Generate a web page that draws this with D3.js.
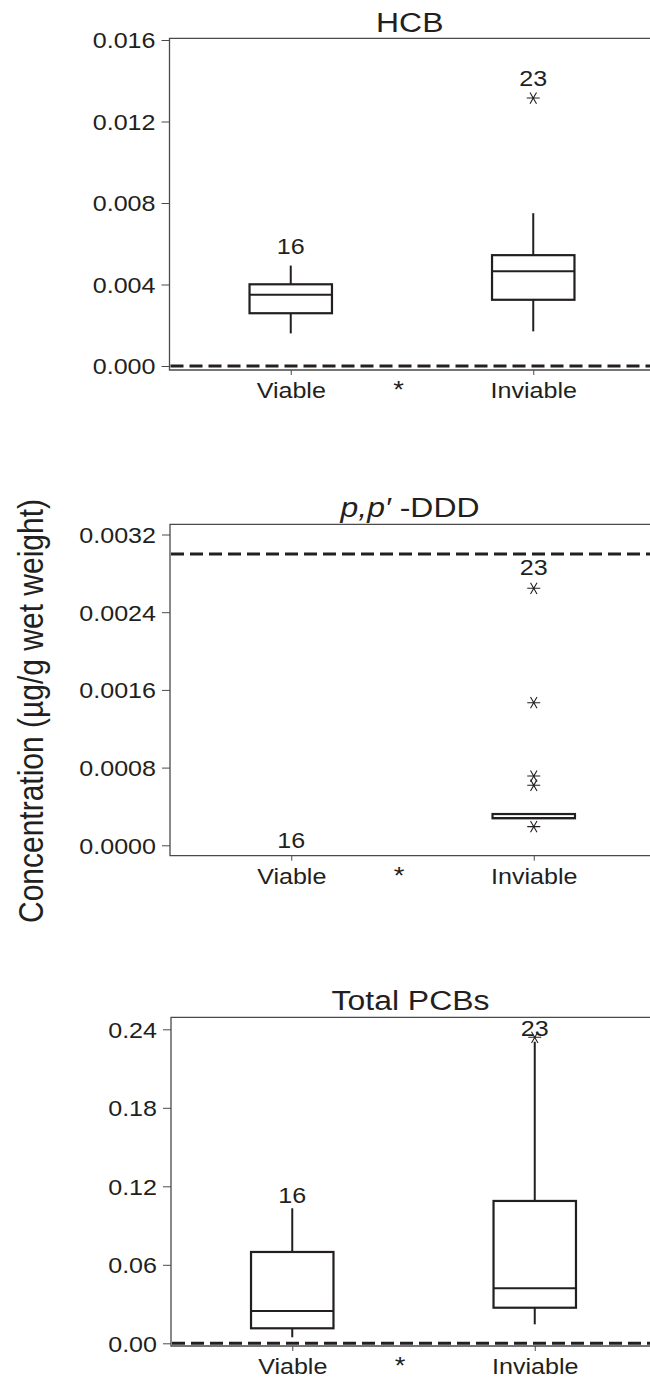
<!DOCTYPE html>
<html><head><meta charset="utf-8">
<script src="https://cdn.jsdelivr.net/npm/d3@7"></script>
<style>
body{margin:0;background:#fff;}
svg{display:block;font-family:"Liberation Sans",Arial,sans-serif;}
</style></head>
<body><svg id="chart" width="650" height="1380"></svg>
<script>
// ---- data ----
const groups = ["Viable", "Inviable"];
const groupLabels = ["16", "23"];
const yAxisTitle = "Concentration (\u00b5g/g wet weight)";
// box stats: [whiskerLow, Q1, median, Q3, whiskerHigh]
const hcbBox = [[0.00160, 0.00259, 0.00350, 0.00401, 0.00493],
                [0.00170, 0.00325, 0.00465, 0.00544, 0.00750]];
const hcbOutliers = [[], [0.01315]];
const hcbLabelAt = [0.00552, 0.01374];
const hcbTicks = [0, 0.004, 0.008, 0.012, 0.016];
const hcbRef = 0;

const dddBox = [null,
                [0.000278, 0.000278, 0.000280, 0.000322, 0.000322]];
const dddOutliers = [[], [0.000192, 0.000618, 0.000713, 0.001468, 0.002646]];
const dddLabelAt = [-0.00003, 0.002783];
const dddTicks = [0, 0.0008, 0.0016, 0.0024, 0.0032];
const dddRef = 0.003;

const pcbBox = [[0.0046, 0.01147, 0.0247, 0.0698, 0.1032],
                [0.0145, 0.0272, 0.0420, 0.1088, 0.2305]];
const pcbOutliers = [[], [0.2339]];
const pcbLabelAt = [0.1072, 0.2349];
const pcbTicks = [0, 0.06, 0.12, 0.18, 0.24];
const pcbRef = 0;

// ---- layout ----
const panels = [
  {title:[{t:"HCB"}], box:hcbBox, out:hcbOutliers, lab:hcbLabelAt, ticks:hcbTicks, ref:hcbRef, fmt:".3f",
   xLeft:169.5, yZero:366, yMax:40, frameTop:38.3, axisBottom:370, titleY:31.5},
  {title:[{t:"p,p\u2032",it:true},{t:" -DDD"}], box:dddBox, out:dddOutliers, lab:dddLabelAt, ticks:dddTicks, ref:dddRef, fmt:".4f",
   xLeft:170, yZero:845.3, yMax:534.5, frameTop:524.3, axisBottom:855.7, titleY:516.5},
  {title:[{t:"Total PCBs"}], box:pcbBox, out:pcbOutliers, lab:pcbLabelAt, ticks:pcbTicks, ref:pcbRef, fmt:".2f",
   xLeft:171, yZero:1343.3, yMax:1029.3, frameTop:1017.3, axisBottom:1346, titleY:1010}
];
const STRETCH = 1.14;
const ink = "#231f20", frameCol = "#4a4a4a";
const svg = d3.select("#chart");

function star(g, x, y){
  const r = 6.5, a = Math.PI/3;
  const p = d3.path();
  p.moveTo(x-r, y); p.lineTo(x+r, y);
  p.moveTo(x-r*Math.cos(a), y-r*Math.sin(a)); p.lineTo(x+r*Math.cos(a), y+r*Math.sin(a));
  p.moveTo(x-r*Math.cos(a), y+r*Math.sin(a)); p.lineTo(x+r*Math.cos(a), y-r*Math.sin(a));
  g.append("path").attr("d", p.toString()).attr("stroke", ink).attr("stroke-width", 1.1).attr("fill","none");
}
function stext(g, x, y, txt, size, anchor){
  return g.append("text").attr("transform", `translate(${x},${y}) scale(${STRETCH},1)`)
    .attr("text-anchor", anchor || "middle").attr("font-size", size).attr("fill", ink).text(txt);
}

panels.forEach(P => {
  const g = svg.append("g");
  const maxT = P.ticks[P.ticks.length-1];
  const y = d3.scaleLinear().domain([0, maxT]).range([P.yZero, P.yMax]);
  const x = d3.scaleLinear().domain([0.5, 2.5]).range([P.xLeft, P.xLeft + 485]);
  const xRight = 652;

  // title
  const tt = g.append("text").attr("transform", `translate(${(P.xLeft+650)/2},${P.titleY}) scale(${STRETCH},1)`)
    .attr("text-anchor","middle").attr("font-size", 28).attr("fill", ink);
  P.title.forEach(s => tt.append("tspan").attr("font-style", s.it ? "italic" : "normal").text(s.t));

  // reference dashed line
  g.append("line").attr("x1", P.xLeft+1).attr("x2", xRight).attr("y1", y(P.ref)).attr("y2", y(P.ref))
    .attr("stroke", ink).attr("stroke-width", 3).attr("stroke-dasharray", "13,6");

  // frame (left, top, bottom)
  g.append("path").attr("d", `M${xRight},${P.frameTop}H${P.xLeft}V${P.axisBottom}H${xRight}`)
    .attr("fill","none").attr("stroke", frameCol).attr("stroke-width", 1.3);

  // y axis ticks
  const ya = d3.axisLeft(y).tickValues(P.ticks).tickSize(8).tickSizeOuter(0).tickFormat(d3.format(P.fmt));
  const yg = g.append("g").attr("transform", `translate(${P.xLeft},0)`).call(ya);
  yg.select(".domain").remove();
  yg.selectAll(".tick line").attr("stroke", frameCol).attr("stroke-width", 1);
  yg.selectAll(".tick text").attr("x", null).attr("dy", "0.36em")
    .attr("transform", `translate(-14,0) scale(${STRETCH},1)`)
    .attr("font-size", 22).attr("fill", ink).attr("font-family", null);

  // x axis ticks & labels
  const xa = d3.axisBottom(x).tickValues([1,2]).tickSize(5).tickSizeOuter(0).tickFormat((d,i) => groups[i]);
  const xg = g.append("g").attr("transform", `translate(0,${P.axisBottom})`).call(xa);
  xg.select(".domain").remove();
  xg.selectAll(".tick line").attr("stroke", frameCol).attr("stroke-width", 1);
  xg.selectAll(".tick text").attr("y", null).attr("dy", null)
    .attr("transform", `translate(0,28) scale(${STRETCH},1)`)
    .attr("font-size", 22).attr("fill", ink).attr("font-family", null);
  // significance asterisk
  stext(g, x(1.445), P.axisBottom + 28, "*", 24);

  // boxes
  const hw = 0.17;
  P.box.forEach((b, i) => {
    if (!b) return;
    const cx = x(i+1);
    g.append("line").attr("x1", cx).attr("x2", cx).attr("y1", y(b[3])).attr("y2", y(b[4]))
      .attr("stroke", ink).attr("stroke-width", 2);
    g.append("line").attr("x1", cx).attr("x2", cx).attr("y1", y(b[0])).attr("y2", y(b[1]))
      .attr("stroke", ink).attr("stroke-width", 2);
    g.append("rect").attr("x", x(i+1-hw)).attr("width", x(i+1+hw) - x(i+1-hw))
      .attr("y", y(b[3])).attr("height", Math.max(0, y(b[1]) - y(b[3])))
      .attr("fill", "#fff").attr("stroke", ink).attr("stroke-width", 2.2);
    g.append("line").attr("x1", x(i+1-hw)).attr("x2", x(i+1+hw)).attr("y1", y(b[2])).attr("y2", y(b[2]))
      .attr("stroke", ink).attr("stroke-width", 2);
  });

  // outliers
  P.out.forEach((arr, i) => arr.forEach(v => star(g, x(i+1), y(v))));

  // group labels
  P.lab.forEach((v, i) => stext(g, x(i+1), y(v), groupLabels[i], 22));
});

// y-axis title
svg.append("text").attr("transform", `translate(43,711) rotate(-90) scale(1,${STRETCH})`)
  .attr("text-anchor","middle").attr("font-size", 30).attr("fill", ink).text(yAxisTitle);
</script></body></html>
